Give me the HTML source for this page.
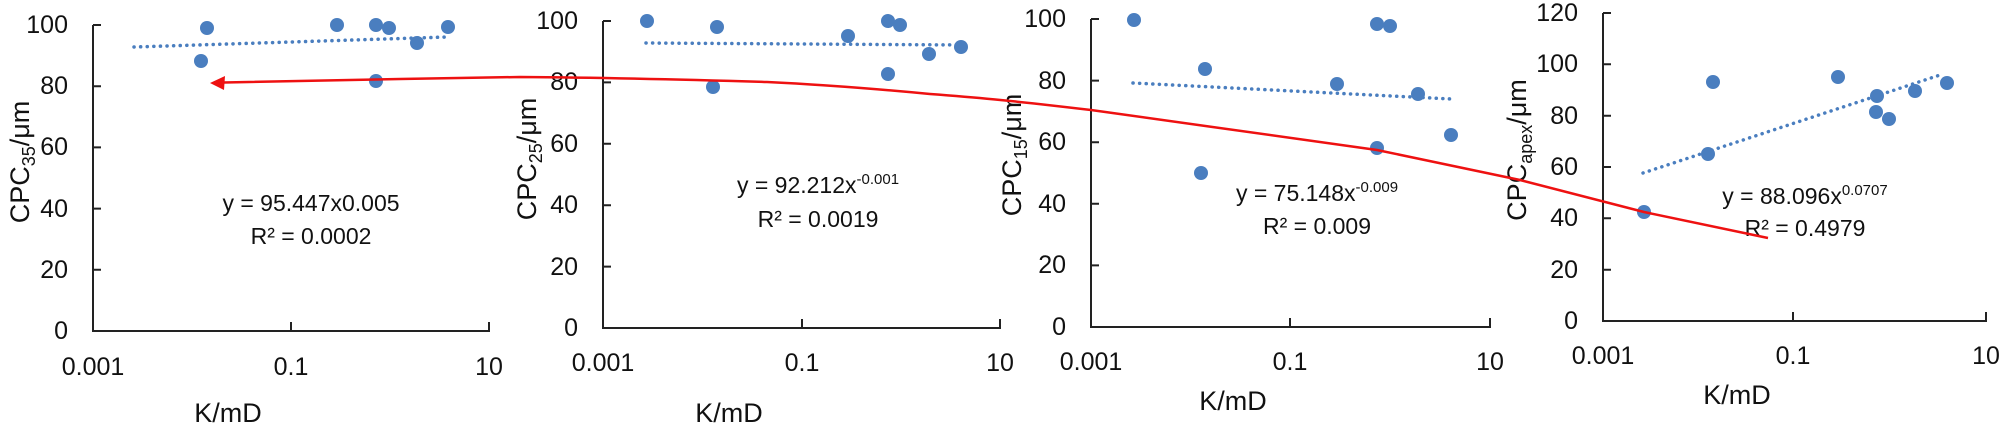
<!DOCTYPE html>
<html><head><meta charset="utf-8"><style>
html,body{margin:0;padding:0;background:#fff;}
svg{display:block;font-family:"Liberation Sans",sans-serif;}
.t{font-size:25px;fill:#111;}
.e{font-size:23px;fill:#111;}
.l{font-size:27px;fill:#111;}
.ax{stroke:#222;stroke-width:2;fill:none;}
.tr{stroke:#4a7ebf;stroke-width:3.5;stroke-dasharray:0.1 6.5;fill:none;stroke-linecap:round;}
.d{fill:#4a7ebf;}
</style></head><body>
<svg width="2008" height="431" viewBox="0 0 2008 431">
<!-- Panel 1 -->
<g>
<path class="ax" d="M93,25 V331 H489 V322 M291,331 V322 M93,25 H101 M93,86.2 H101 M93,147.4 H101 M93,208.6 H101 M93,269.8 H101"/>
<g class="t" text-anchor="end" dominant-baseline="central">
<text x="68" y="25">100</text><text x="68" y="86">80</text><text x="68" y="147">60</text><text x="68" y="209">40</text><text x="68" y="270">20</text><text x="68" y="331">0</text></g>
<g class="t" text-anchor="middle" dominant-baseline="central">
<text x="93" y="367">0.001</text><text x="291" y="367">0.1</text><text x="489" y="367">10</text></g>
<text class="l" x="228" y="422" text-anchor="middle">K/mD</text>
<text class="l" transform="translate(29,162) rotate(-90)" text-anchor="middle">CPC<tspan font-size="18" dy="6">35</tspan><tspan dy="-6">/μm</tspan></text>
<path class="tr" d="M134,47 L447,37"/>
<g class="d"><circle cx="207" cy="28" r="7"/><circle cx="201" cy="61" r="7"/><circle cx="337" cy="25" r="7"/><circle cx="376" cy="25" r="7"/><circle cx="389" cy="28" r="7"/><circle cx="376" cy="81" r="7"/><circle cx="417" cy="43" r="7"/><circle cx="448" cy="27" r="7"/></g>
<g class="e" text-anchor="middle"><text x="311" y="211">y = 95.447x0.005</text><text x="311" y="244">R² = 0.0002</text></g>
</g>
<!-- Panel 2 -->
<g>
<path class="ax" d="M603,21 V328 H1000 V319 M802,328 V319 M603,21 H611 M603,82.4 H611 M603,143.8 H611 M603,205.2 H611 M603,266.6 H611"/>
<g class="t" text-anchor="end" dominant-baseline="central">
<text x="578" y="21">100</text><text x="578" y="82">80</text><text x="578" y="144">60</text><text x="578" y="205">40</text><text x="578" y="267">20</text><text x="578" y="328">0</text></g>
<g class="t" text-anchor="middle" dominant-baseline="central">
<text x="603" y="363">0.001</text><text x="802" y="363">0.1</text><text x="1000" y="363">10</text></g>
<text class="l" x="729" y="422" text-anchor="middle">K/mD</text>
<text class="l" transform="translate(536,159) rotate(-90)" text-anchor="middle">CPC<tspan font-size="18" dy="6">25</tspan><tspan dy="-6">/μm</tspan></text>
<path class="tr" d="M646,43 L965,45"/>
<g class="d"><circle cx="647" cy="21" r="7"/><circle cx="717" cy="27" r="7"/><circle cx="713" cy="87" r="7"/><circle cx="848" cy="36" r="7"/><circle cx="888" cy="21" r="7"/><circle cx="900" cy="25" r="7"/><circle cx="888" cy="74" r="7"/><circle cx="929" cy="54" r="7"/><circle cx="961" cy="47" r="7"/></g>
<g class="e" text-anchor="middle"><text x="818" y="193">y = 92.212x<tspan font-size="15" dy="-9">-0.001</tspan></text><text x="818" y="227" dy="0">R² = 0.0019</text></g>
</g>
<!-- Panel 3 -->
<g>
<path class="ax" d="M1091,19 V327 H1490 V318 M1290,327 V318 M1091,19 H1099 M1091,80.6 H1099 M1091,142.2 H1099 M1091,203.8 H1099 M1091,265.4 H1099"/>
<g class="t" text-anchor="end" dominant-baseline="central">
<text x="1066" y="19">100</text><text x="1066" y="81">80</text><text x="1066" y="142">60</text><text x="1066" y="204">40</text><text x="1066" y="265">20</text><text x="1066" y="327">0</text></g>
<g class="t" text-anchor="middle" dominant-baseline="central">
<text x="1091" y="362">0.001</text><text x="1290" y="362">0.1</text><text x="1490" y="362">10</text></g>
<text class="l" x="1233" y="410" text-anchor="middle">K/mD</text>
<text class="l" transform="translate(1021,155) rotate(-90)" text-anchor="middle">CPC<tspan font-size="18" dy="6">15</tspan><tspan dy="-6">/μm</tspan></text>
<path class="tr" d="M1133,83 L1451,99"/>
<g class="d"><circle cx="1134" cy="20" r="7"/><circle cx="1205" cy="69" r="7"/><circle cx="1201" cy="173" r="7"/><circle cx="1337" cy="84" r="7"/><circle cx="1377" cy="24" r="7"/><circle cx="1390" cy="26" r="7"/><circle cx="1377" cy="148" r="7"/><circle cx="1418" cy="94" r="7"/><circle cx="1451" cy="135" r="7"/></g>
<g class="e" text-anchor="middle"><text x="1317" y="201">y = 75.148x<tspan font-size="15" dy="-9">-0.009</tspan></text><text x="1317" y="234">R² = 0.009</text></g>
</g>
<!-- Panel 4 -->
<g>
<path class="ax" d="M1603,13 V321 H1986 V312 M1793,321 V312 M1603,13 H1611 M1603,64.3 H1611 M1603,115.7 H1611 M1603,167 H1611 M1603,218.3 H1611 M1603,269.7 H1611"/>
<g class="t" text-anchor="end" dominant-baseline="central">
<text x="1578" y="13">120</text><text x="1578" y="64">100</text><text x="1578" y="116">80</text><text x="1578" y="167">60</text><text x="1578" y="218">40</text><text x="1578" y="270">20</text><text x="1578" y="321">0</text></g>
<g class="t" text-anchor="middle" dominant-baseline="central">
<text x="1603" y="356">0.001</text><text x="1793" y="356">0.1</text><text x="1986" y="356">10</text></g>
<text class="l" x="1737" y="404" text-anchor="middle">K/mD</text>
<text class="l" transform="translate(1526,150) rotate(-90)" text-anchor="middle">CPC<tspan font-size="18" dy="6">apex</tspan><tspan dy="-6">/μm</tspan></text>
<path class="tr" d="M1643,173 L1943,74"/>
<g class="d"><circle cx="1713" cy="82" r="7"/><circle cx="1708" cy="154" r="7"/><circle cx="1644" cy="212" r="7"/><circle cx="1838" cy="77" r="7"/><circle cx="1877" cy="96" r="7"/><circle cx="1876" cy="112" r="7"/><circle cx="1889" cy="119" r="7"/><circle cx="1915" cy="91" r="7"/><circle cx="1947" cy="83" r="7"/></g>
<g class="e" text-anchor="middle"><text x="1805" y="204">y = 88.096x<tspan font-size="15" dy="-9">0.0707</tspan></text><text x="1805" y="236">R² = 0.4979</text></g>
</g>
<!-- red curve -->
<path d="M224,82.5 L400,79 L520,77 C600,77.5 700,80 767,82 C830,85 888,90 930,94 C970,97 1007,100 1091,110 L1377,150 L1520,180 L1644,212 L1768,238" fill="none" stroke="#ee1111" stroke-width="2.5"/>
<path d="M210,83 L225,76 L224,90 Z" fill="#ee1111"/>
</svg>
</body></html>
